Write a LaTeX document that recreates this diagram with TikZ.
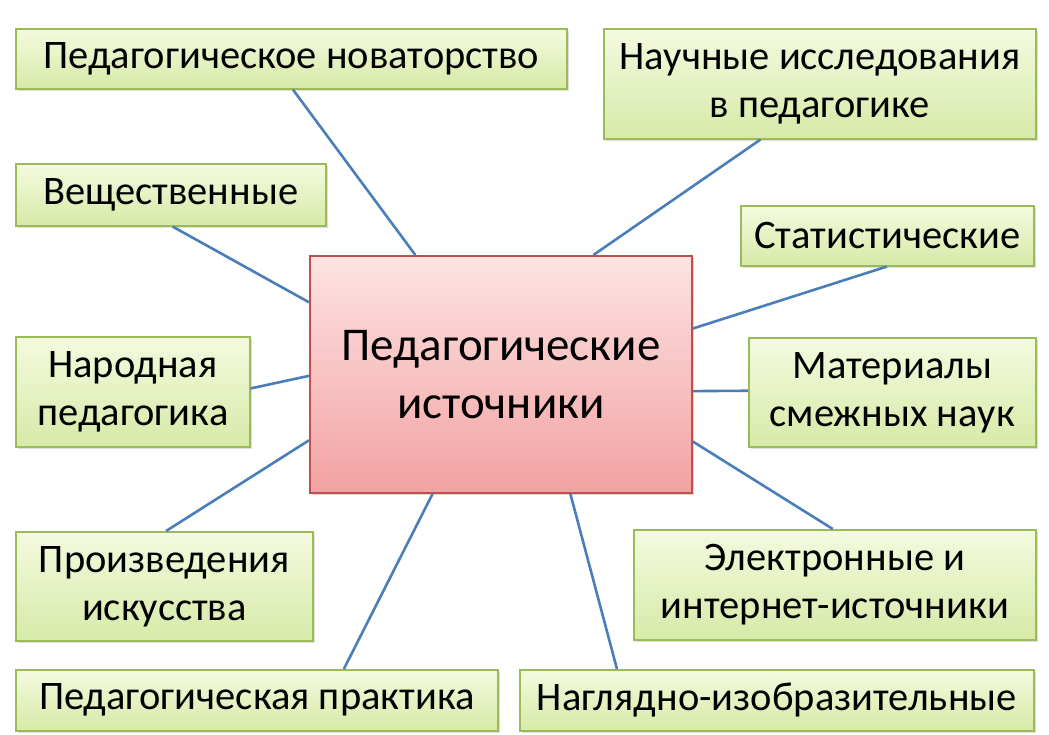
\documentclass[tikz,border=0pt]{standalone}
\usepackage{fontspec}
\setmainfont{Carlito}
\usetikzlibrary{shadows,calc}
\definecolor{gtop}{HTML}{F4FADF}
\definecolor{gbot}{HTML}{D6EAA8}
\definecolor{gborder}{HTML}{9BBB59}
\definecolor{rtop}{HTML}{FDE3E3}
\definecolor{rbot}{HTML}{F3A2A2}
\definecolor{rborder}{HTML}{C0504D}
\definecolor{lnk}{HTML}{4A7EBB}
\tikzset{
  gbox/.style={draw=gborder, line width=1.6pt, top color=gtop, bottom color=gbot,
    anchor=north west, inner sep=0pt, align=center,
    font=\fontsize{40.5}{48}\selectfont,
    drop shadow={shadow xshift=2pt, shadow yshift=-2pt, opacity=0.25}},
  cbox/.style={draw=rborder, line width=1.8pt, top color=rtop, bottom color=rbot,
    anchor=north west, inner sep=0pt, align=center,
    font=\fontsize{47}{58}\selectfont,
    drop shadow={shadow xshift=2pt, shadow yshift=-2pt, opacity=0.3}},
  link/.style={draw=lnk, line width=2.6pt}
}
\begin{document}
\begin{tikzpicture}[x=1pt,y=-1pt]
\useasboundingbox[fill=white] (0,0) rectangle (1049,735);
% central
\node[cbox, minimum width=382pt, minimum height=237pt] (c) at (309,255) {Педагогические\\источники};
% boxes
\node[gbox, minimum width=551pt, minimum height=60pt] (b1) at (15,28) {Педагогическое новаторство};
\node[gbox, minimum width=432pt, minimum height=110pt] (b2) at (603,28) {Научные исследования\\в педагогике};
\node[gbox, minimum width=310pt, minimum height=62pt] (b3) at (15,163) {Вещественные};
\node[gbox, minimum width=293pt, minimum height=60pt] (b4) at (740,205) {Статистические};
\node[gbox, minimum width=234pt, minimum height=110pt] (b6) at (15,336) {Народная\\педагогика};
\node[gbox, minimum width=287pt, minimum height=109pt] (b7) at (748,337) {Материалы\\смежных наук};
\node[gbox, minimum width=297pt, minimum height=109pt] (b8) at (15,531) {Произведения\\искусства};
\node[gbox, minimum width=402pt, minimum height=110pt] (b9) at (633,529) {Электронные и\\интернет-источники};
\node[gbox, minimum width=482pt, minimum height=61pt] (b10) at (15,669) {Педагогическая практика};
\node[gbox, minimum width=514pt, minimum height=61pt] (b11) at (519,669) {Наглядно-изобразительные};
% connectors
\draw[link] ($(b1.south west)!0.503!(b1.south east)$) -- ($(c.north west)!0.277!(c.north east)$);
\draw[link] ($(b2.south west)!0.363!(b2.south east)$) -- ($(c.north west)!0.741!(c.north east)$);
\draw[link] ($(b3.south west)!0.506!(b3.south east)$) -- ($(c.north west)!0.198!(c.south west)$);
\draw[link] ($(b4.south west)!0.498!(b4.south east)$) -- ($(c.north east)!0.308!(c.south east)$);
\draw[link] ($(b6.north east)!0.47!(b6.south east)$) -- ($(c.north west)!0.506!(c.south west)$);
\draw[link] ($(b7.north west)!0.486!(b7.south west)$) -- ($(c.north east)!0.570!(c.south east)$);
\draw[link] ($(b8.north west)!0.506!(b8.north east)$) -- ($(c.north west)!0.776!(c.south west)$);
\draw[link] ($(b9.north west)!0.495!(b9.north east)$) -- ($(c.north east)!0.781!(c.south east)$);
\draw[link] ($(b10.north west)!0.680!(b10.north east)$) -- ($(c.south west)!0.322!(c.south east)$);
\draw[link] ($(b11.north west)!0.190!(b11.north east)$) -- ($(c.south west)!0.681!(c.south east)$);
\end{tikzpicture}
\end{document}
